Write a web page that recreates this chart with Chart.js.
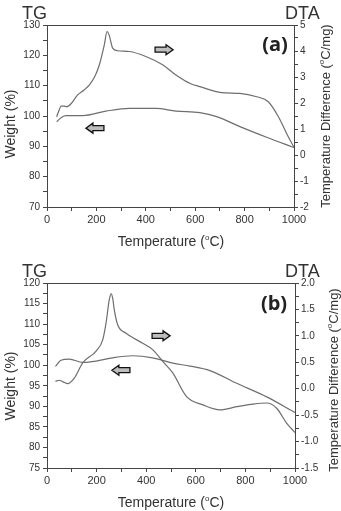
<!DOCTYPE html>
<html>
<head>
<meta charset="utf-8">
<script src="https://cdn.jsdelivr.net/npm/chart.js@4.4.0/dist/chart.umd.min.js"></script>
<style>
  body { margin: 0; background: #fff; }
  #wrap { position: relative; width: 341px; height: 511px; font-family: 'Liberation Sans', Arial, sans-serif; color: #333; }
  .pane { position: absolute; left: 0; width: 341px; }
  .txt { position: absolute; white-space: nowrap; transform: translate(-50%, -50%); }
  .rot { transform: translate(-50%, -50%) rotate(-90deg); }
  .tag { font-family: 'Open Sans', sans-serif; font-weight: bold; font-size: 20px; color: #222; }
  .big { font-size: 18px; color: #333; transform: none; }
</style>
</head>
<body>
<div id="wrap">
  <div class="pane" style="top:0;height:255px"><canvas id="chartA" width="341" height="255"></canvas></div>
  <div class="pane" style="top:255px;height:256px"><canvas id="chartB" width="341" height="256"></canvas></div>

  <!-- textos do painel (a) -->
  <div class="txt big" style="left:22px;top:3px">TG</div>
  <div class="txt big" style="left:285px;top:3px">DTA</div>
  <div class="txt tag" style="left:275px;top:43px">(a)</div>
  <div class="txt rot" style="left:10px;top:124px;font-size:14px">Weight (%)</div>
  <div class="txt rot" style="left:325px;top:116px;font-size:13px">Temperature Difference (<sup style="font-size:8px">o</sup>C/mg)</div>
  <div class="txt" style="left:171px;top:241px;font-size:14px">Temperature (<sup style="font-size:8px">o</sup>C)</div>

  <!-- textos do painel (b) -->
  <div class="txt big" style="left:22px;top:261px">TG</div>
  <div class="txt big" style="left:285px;top:261px">DTA</div>
  <div class="txt tag" style="left:274px;top:302px">(b)</div>
  <div class="txt rot" style="left:10px;top:386px;font-size:14px">Weight (%)</div>
  <div class="txt rot" style="left:333px;top:380px;font-size:13px">Temperature Difference (<sup style="font-size:8px">o</sup>C/mg)</div>
  <div class="txt" style="left:171px;top:502px;font-size:14px">Temperature (<sup style="font-size:8px">o</sup>C)</div>
</div>

<script>
// Painel (a) - TG
const tempA_TG = [39, 60, 77, 145, 239, 333, 441, 522, 619, 687, 781, 889, 1000];
const pesoA = [98.1, 99.6, 100.1, 100.1, 101.6, 102.5, 102.5, 101.6, 101.1, 99.8, 96.5, 93.0, 89.6];
// Painel (a) - DTA
const tempA_DTA = [39, 50, 57, 68, 80, 100, 124, 150, 171, 195, 212, 232, 243, 252, 266, 286, 333, 400, 468, 522, 580, 619, 707, 781, 849, 896, 937, 970, 1000];
const dtaA = [1.47, 1.75, 1.88, 1.88, 1.86, 2.0, 2.31, 2.5, 2.69, 3.05, 3.47, 4.24, 4.75, 4.6, 4.11, 4.01, 3.98, 3.79, 3.47, 3.08, 2.75, 2.63, 2.40, 2.37, 2.24, 2.05, 1.47, 0.83, 0.29];

// Painel (b) - TG
const tempB_TG = [34, 56, 90, 144, 198, 265, 346, 426, 507, 577, 657, 765, 886, 1000];
const pesoB = [99.7, 101.2, 101.5, 100.7, 101.0, 101.8, 102.3, 101.8, 100.5, 99.8, 98.7, 95.6, 92.3, 88.5];
// Painel (b) - DTA
const tempB_DTA = [34, 50, 65, 83, 110, 144, 198, 225, 238, 251, 259, 266, 271, 285, 319, 386, 426, 466, 507, 563, 631, 698, 765, 832, 886, 926, 966, 1000];
const dtaB = [0.14, 0.16, 0.13, 0.095, 0.20, 0.49, 0.71, 0.93, 1.24, 1.68, 1.80, 1.68, 1.50, 1.21, 1.05, 0.86, 0.74, 0.52, 0.30, -0.15, -0.31, -0.40, -0.34, -0.29, -0.27, -0.37, -0.65, -0.83];

const corLinha = '#6e6e6e';
const corEixo = '#444';

// junta x e y em pontos
function pontos(xs, ys) {
  return xs.map((x, i) => ({ x: x, y: ys[i] }));
}

// moldura + setas
const molduraPlugin = {
  id: 'moldura',
  afterDraw(chart, args, opts) {
    const ctx = chart.ctx;
    const a = chart.chartArea;
    ctx.save();
    ctx.strokeStyle = corEixo;
    ctx.lineWidth = 1;
    ctx.strokeRect(a.left + 0.5, a.top + 0.5, a.right - a.left, a.bottom - a.top);
    (opts.setas || []).forEach(s => {
      const px = chart.scales.x.getPixelForValue(s.x);
      const py = chart.scales[s.eixo].getPixelForValue(s.y);
      const d = s.dir;
      ctx.beginPath();
      // seta em bloco
      ctx.moveTo(px - 9 * d, py - 2.5);
      ctx.lineTo(px + 2 * d, py - 2.5);
      ctx.lineTo(px + 2 * d, py - 5);
      ctx.lineTo(px + 9 * d, py);
      ctx.lineTo(px + 2 * d, py + 5);
      ctx.lineTo(px + 2 * d, py + 2.5);
      ctx.lineTo(px - 9 * d, py + 2.5);
      ctx.closePath();
      ctx.fillStyle = '#bdbdbd';
      ctx.fill();
      ctx.strokeStyle = '#111';
      ctx.lineWidth = 1.3;
      ctx.stroke();
    });
    ctx.restore();
  }
};

function criarGrafico(id, cfg) {
  const ctx = document.getElementById(id).getContext('2d');
  const fonteTick = { family: "'Liberation Sans', Arial, sans-serif", size: 10 };
  const grade = { display: true, drawOnChartArea: false, drawTicks: true, tickLength: 4, color: corEixo, tickColor: corEixo };
  return new Chart(ctx, {
    type: 'line',
    data: {
      datasets: [
        { data: pontos(cfg.tTG, cfg.peso), yAxisID: 'y', borderColor: corLinha, borderWidth: 1.2, pointRadius: 0, cubicInterpolationMode: 'monotone', fill: false },
        { data: pontos(cfg.tDTA, cfg.dta), yAxisID: 'y1', borderColor: corLinha, borderWidth: 1.2, pointRadius: 0, cubicInterpolationMode: 'monotone', fill: false }
      ]
    },
    options: {
      responsive: false,
      animation: false,
      events: [],
      layout: { padding: { top: cfg.topo, left: 0, right: 0, bottom: 0 } },
      plugins: { legend: { display: false }, tooltip: { enabled: false }, moldura: { setas: cfg.setas } },
      scales: {
        x: {
          type: 'linear', min: 0, max: 1000,
          grid: grade,
          border: { display: true, color: corEixo },
          ticks: { stepSize: 100, autoSkip: false, maxRotation: 0, padding: 2, color: '#333', font: { family: fonteTick.family, size: 11 },
            callback: v => (v % 200 === 0 ? v : '') },
          afterFit: s => { s.height = cfg.altX; }
        },
        y: {
          position: 'left', min: cfg.yMin, max: cfg.yMax,
          grid: grade,
          border: { display: true, color: corEixo },
          ticks: { stepSize: cfg.yPasso, autoSkip: false, padding: 3, color: '#333', font: fonteTick,
            callback: cfg.yRotulo },
          afterFit: s => { s.width = 47; }
        },
        y1: {
          position: 'right', min: cfg.y1Min, max: cfg.y1Max,
          grid: grade,
          border: { display: true, color: corEixo },
          ticks: { stepSize: cfg.y1Passo, autoSkip: false, padding: 2, color: '#333', font: fonteTick,
            callback: cfg.y1Rotulo },
          afterFit: s => { s.width = cfg.largDir; }
        }
      }
    },
    plugins: [molduraPlugin]
  });
}

criarGrafico('chartA', {
  tTG: tempA_TG, peso: pesoA, tDTA: tempA_DTA, dta: dtaA,
  topo: 25, altX: 48, largDir: 47,
  yMin: 70, yMax: 130, yPasso: 5, yRotulo: v => (v % 10 === 0 ? v : ''),
  y1Min: -2, y1Max: 5, y1Passo: 0.5, y1Rotulo: v => (Number.isInteger(v) ? v : ''),
  setas: [ { x: 474, y: 4.05, eixo: 'y1', dir: 1 }, { x: 194, y: 96.0, eixo: 'y', dir: -1 } ]
});

criarGrafico('chartB', {
  tTG: tempB_TG, peso: pesoB, tDTA: tempB_DTA, dta: dtaB,
  topo: 28, altX: 43, largDir: 46,
  yMin: 75, yMax: 120, yPasso: 2.5, yRotulo: v => (v % 5 === 0 ? v : ''),
  y1Min: -1.5, y1Max: 2.0, y1Passo: 0.25,
  y1Rotulo: v => (Math.abs(v * 2 - Math.round(v * 2)) < 1e-6 ? v.toFixed(1) : ''),
  setas: [ { x: 460, y: 1.0, eixo: 'y1', dir: 1 }, { x: 298, y: 98.8, eixo: 'y', dir: -1 } ]
});
</script>
</body>
</html>
